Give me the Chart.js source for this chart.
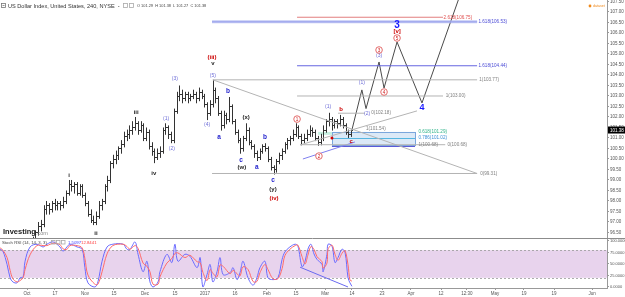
<!DOCTYPE html>
<html>
<head>
<meta charset="utf-8">
<script src="https://cdn.jsdelivr.net/npm/chart.js@4/dist/chart.umd.min.js"></script>
<style>
  body { margin: 0; background: #fff; overflow: hidden; }
  #wrap { position: relative; width: 625px; height: 297px; }
  #price { position: absolute; left: 0; top: 0; }
  #stoch { position: absolute; left: 0; top: 238px; }
</style>
</head>
<body>
<div id="wrap">
  <canvas id="price" width="625" height="238"></canvas>
  <canvas id="stoch" width="625" height="59"></canvas>
</div>
<script>
const FONT = '"Liberation Sans", Arial, sans-serif';

// x unit = trading day, 0 = Mon 3 Oct 2016
const dayMin = -9.75;
const dayMax = 209.4;
const xTickDays = [0, 10.1, 20.9, 31.4, 42.6, 53.4, 64.3, 75.1, 86.6, 97.1, 107.6, 117.3, 128.2, 138.6, 149.5, 158.8, 169, 179.4, 190.3, 204];
const xTickLabels = ["Oct", "17", "Nov", "15", "Dec", "15", "2017", "16", "Feb", "15", "Mar", "14", "23", "Apr", "12", "12:30", "May", "19", "19", "Jun"];

const priceTicks = [96.5, 97, 97.5, 98, 98.5, 99, 99.5, 100, 100.5, 101, 101.5, 102, 102.5, 103, 103.5, 104, 104.5, 105, 105.5, 106, 106.5, 107, 107.5];
const stochTicks = [0, 25, 50, 75, 100];

// daily OHLC, one entry per trading day
const barOpen = [95.6,95.8,96.0,96.2,96.5,96.8,96.9,97.6,97.8,97.6,
  97.9,97.8,97.9,97.8,98.0,98.4,98.8,98.7,98.8,98.4,
  98.7,98.3,97.9,97.4,97.1,97.0,97.3,97.8,98.0,98.7,
  99.0,99.8,100.0,100.2,100.5,100.7,101.1,101.2,101.4,101.5,
  101.7,101.4,101.6,101.0,101.3,100.6,100.4,100.1,100.3,100.4,
  101.4,101.5,101.2,100.9,102.3,103.0,103.1,102.9,103.1,102.9,
  103.0,103.1,102.9,103.2,103.0,102.6,102.2,102.6,103.3,102.9,
  102.2,101.6,102.1,101.9,102.5,101.8,101.3,100.9,100.5,101.0,
  101.4,100.8,100.6,100.3,100.1,100.4,100.6,100.5,100.0,99.6,
  99.5,99.9,100.2,100.4,100.7,100.9,101.0,101.2,101.5,101.1,
  100.9,101.0,101.2,101.4,101.3,101.0,100.8,101.0,101.4,101.8,
  101.9,101.6,101.8,101.7,101.9,101.6,101.3,101.2];
const barHigh = [95.9,96.1,96.3,96.6,97.0,97.1,97.8,98.0,97.9,98.0,
  98.1,98.0,98.0,98.2,98.5,99.0,99.0,98.9,98.9,98.8,
  98.8,98.4,98.0,97.6,97.3,97.5,98.0,98.1,98.8,99.2,
  99.9,100.2,100.4,100.6,100.9,101.3,101.4,101.6,101.8,102.0,
  101.8,101.8,101.7,101.5,101.4,100.8,100.5,100.5,100.6,101.5,
  101.7,101.6,101.3,102.4,103.2,103.5,103.3,103.2,103.2,103.1,
  103.3,103.2,103.4,103.3,103.1,102.7,102.8,103.77,103.4,103.0,
  102.3,102.3,102.2,102.95,102.6,101.9,101.4,101.0,101.1,101.7,
  101.5,100.9,100.7,100.4,100.5,100.7,100.75,100.6,100.1,99.7,
  100.0,100.3,100.5,100.8,101.0,101.1,101.4,101.7,101.6,101.2,
  101.2,101.4,101.6,101.5,101.4,101.1,101.2,101.6,101.9,102.2,
  102.0,101.9,101.9,102.1,102.0,101.7,101.4,101.4];
const barLow = [95.5,95.7,95.9,96.1,96.4,96.6,96.8,97.4,97.4,97.5,
  97.6,97.6,97.6,97.7,97.9,98.3,98.5,98.4,98.3,98.3,
  98.2,97.8,97.3,97.0,96.9,96.9,97.2,97.6,97.9,98.5,
  98.9,99.6,99.8,100.0,100.3,100.6,100.9,101.0,101.2,101.4,
  101.2,101.3,100.9,100.9,100.5,100.2,99.85,100.0,100.1,100.3,
  101.2,101.0,100.8,100.8,102.2,102.8,102.7,102.8,102.7,102.8,
  102.9,102.7,102.8,102.9,102.5,101.9,102.1,102.5,102.7,102.1,
  101.4,101.5,101.7,101.8,101.7,101.2,100.8,100.3,100.4,100.9,
  100.7,100.5,100.1,99.95,100.0,100.3,100.4,99.9,99.5,99.31,
  99.4,99.8,100.0,100.3,100.5,100.7,100.9,101.1,101.0,100.7,
  100.8,100.9,101.1,101.1,100.9,100.68,100.7,100.9,101.3,101.6,
  101.4,101.5,101.5,101.6,101.5,101.2,101.05,101.1];
const barClose = [95.8,96.0,96.2,96.5,96.8,96.9,97.6,97.8,97.6,97.9,
  97.8,97.9,97.8,98.0,98.4,98.8,98.7,98.8,98.4,98.7,
  98.3,97.9,97.4,97.1,97.0,97.3,97.8,98.0,98.7,99.0,
  99.8,100.0,100.2,100.5,100.7,101.1,101.2,101.4,101.5,101.7,
  101.4,101.6,101.0,101.3,100.6,100.4,100.1,100.3,100.4,101.4,
  101.5,101.2,100.9,102.3,103.0,103.1,102.9,103.1,102.9,103.0,
  103.1,102.9,103.2,103.0,102.6,102.2,102.6,103.3,102.9,102.2,
  101.6,102.1,101.9,102.5,101.8,101.3,100.9,100.5,101.0,101.4,
  100.8,100.6,100.3,100.1,100.4,100.6,100.5,100.0,99.6,99.5,
  99.9,100.2,100.4,100.7,100.9,101.0,101.2,101.5,101.1,100.9,
  101.0,101.2,101.4,101.3,101.0,100.8,101.0,101.4,101.8,101.9,
  101.6,101.8,101.7,101.9,101.6,101.3,101.2,101.38];

// projected wave path
const projDay = [117.3, 120.9, 122.4, 127.1, 128.9, 133.6, 142.6, 157];
const projPrice = [101.38, 103.29, 102.4, 104.62, 103.38, 105.57, 102.67, 108.05];

// drawn levels and trend lines
const segDay1 = [97.5, 66.8, 97.5, 67.1, 97.5, 112.3, 66.8, 98.6, 67.1, 98.6, 99.6];
const segPrice1 = [106.75, 106.53, 104.44, 103.77, 103.0, 102.18, 99.31, 100.68, 103.77, 100.67, 100.0];
const segDay2 = [150.2, 162.5, 162.5, 162.5, 150.2, 122, 162.5, 151, 162.5, 140.8, 118.4];
const segPrice2 = [106.75, 106.53, 104.44, 103.77, 103.0, 102.18, 99.31, 100.68, 99.31, 102.29, 100.81];
const segKind = ["red", "blueWide", "blue", "grey", "grey", "grey", "grey", "grey", "grey", "grey", "blueDiag"];

// retracement box
const boxDays = [110.1, 140.1];
const boxPrices = [101.29, 100.68];
const boxLevel = 101.02;
const greenBoxDays = [105.1, 110.1];
const greenBoxPrices = [101.29, 101.15];

const fibText = ["2.618(106.75)", "1.618(106.53)", "1.618(104.44)", "1(103.77)", "1(103.00)", "0(102.18)", "1(101.54)", "0.618(101.29)", "0.786(101.02)", "1(100.68)", "0(100.68)", "0(99.31)"];
const fibDay = [150.4, 163.0, 163.0, 163.3, 151.2, 124.3, 122.4, 141.3, 141.3, 141.3, 151.8, 163.6];
const fibPrice = [106.75, 106.53, 104.44, 103.77, 103.0, 102.18, 101.45, 101.29, 101.02, 100.68, 100.68, 99.31];
const fibKind = ["red", "blue", "blue", "grey", "grey", "grey", "grey", "green", "teal", "grey", "grey", "grey"];

// wave labels
const romanText = ["i", "ii", "iii", "iv", "v", "(x)", "(w)", "(y)"];
const romanDay = [15.2, 24.9, 39.4, 45.8, 67.1, 79.1, 77.6, 88.8];
const romanPrice = [99.24, 96.48, 102.24, 99.33, 104.57, 102.0, 99.62, 98.57];

const abcText = ["a", "b", "c", "a", "b", "c"];
const abcDay = [69.3, 72.6, 77.3, 83.0, 85.9, 88.8];
const abcPrice = [101.05, 103.24, 99.95, 99.62, 101.05, 99.0];

const minorText = ["(1)", "(2)", "(3)", "(4)", "(5)", "(1)", "(1)", "(2)", "(3)"];
const minorDay = [50.2, 52.3, 53.4, 65.0, 67.1, 108.7, 120.9, 122.8, 127.1];
const minorPrice = [101.9, 100.48, 103.81, 101.62, 103.95, 102.48, 103.62, 102.18, 104.9];

const redText = ["(iii)", "(iv)", "b", "c", "[v]"];
const redDay = [66.8, 89.2, 113.4, 117.0, 133.6];
const redPrice = [104.86, 98.14, 102.38, 100.86, 106.1];

const circleText = ["1", "2", "3", "4", "5"];
const circleDay = [97.5, 105.4, 127.1, 128.9, 133.6];
const circlePrice = [101.9, 100.14, 105.19, 103.19, 105.76];

const bigText = ["3", "4"];
const bigDay = [133.6, 142.6];
const bigPrice = [106.38, 102.43];

const redDotDay = [110.1];
const redDotPrice = [101.0];

// Stoch RSI (14, 14, 3, 3)
const stochDay = [-9.7,-8.7,-7.2,-6.1,-5.1,-3.6,-2.5,-1.4,-0.7,1.1,
  3.6,5.8,7.2,9.4,11.9,13.0,14.4,15.5,18.1,19.9,
  20.9,22.0,24.5,25.6,27.1,28.9,31.0,34.7,36.1,37.2,
  39.0,40.1,41.9,43.3,44.4,45.5,47.3,48.0,50.5,52.3,
  53.4,54.5,57.0,58.8,61.4,62.5,63.5,65.0,66.1,67.1,
  68.6,69.7,70.8,73.3,74.4,75.8,76.9,78.0,79.8,81.6,
  83.0,84.1,85.9,87.0,88.8,90.6,92.1,93.1,94.9,96.8,
  97.8,99.3,100.4,101.4,102.5,103.6,104.7,106.5,106.9,108.3,
  108.7,110.1,111.2,112.3,113.7,114.8,115.9,116.6,117.3];
const stochK = [82,78,49,20,11,9,20,22,56,87,
  93,87,93,98,87,78,87,93,87,82,
  42,9,0,11,56,87,93,93,82,82,
  98,71,33,56,11,0,11,33,71,53,
  93,56,71,67,42,64,0,27,49,11,
  33,64,27,31,42,16,31,56,20,4,
  20,42,56,20,16,20,60,76,87,93,
  89,44,56,82,93,72,60,49,33,71,
  93,89,53,64,82,76,20,9,1.5097];
const stochD = [85,80,64,36,18,11,14,20,38,70,
  90,90,90,95,92,83,82,90,90,85,
  62,26,6,6,33,72,90,93,88,82,
  90,84,52,45,33,6,6,22,52,62,
  73,74,64,69,55,53,32,14,38,30,
  22,48,45,29,36,29,24,44,38,12,
  12,31,49,38,18,18,40,68,82,90,
  91,66,50,69,88,82,66,55,41,52,
  82,91,71,58,73,79,48,15,12.8441];
const divDay = [98.6, 115.9];
const divValue = [43, 0];

const segColor = { red: "#e27d7d", blue: "#6666e0", blueWide: "#6666e0", grey: "#b4b4b4", blueDiag: "#7f7fee" };
const fibColor = { red: "#e05050", blue: "#4b4bd6", grey: "#808080", green: "#2fb38a", teal: "#3c8fd6" };

function pts(xs, ys) {
  return xs.map((x, i) => ({ x: x, y: ys[i] }));
}

function txt(ctx, s, x, y, color, font, align) {
  ctx.fillStyle = color;
  ctx.font = font;
  ctx.textAlign = align || "center";
  ctx.textBaseline = "middle";
  ctx.fillText(s, x, y);
}

//open-high-low-close bars plus the box behind them
const ohlcPlugin = {
  id: "ohlc",
  beforeDatasetsDraw(chart) {
    const { ctx, chartArea, scales: { x, y } } = chart;
    ctx.save();
    ctx.beginPath();
    ctx.rect(chartArea.left, chartArea.top, chartArea.right - chartArea.left, chartArea.bottom - chartArea.top);
    ctx.clip();

    // green strip and retracement box
    let gx1 = x.getPixelForValue(greenBoxDays[0]), gx2 = x.getPixelForValue(greenBoxDays[1]);
    let gy1 = y.getPixelForValue(greenBoxPrices[0]), gy2 = y.getPixelForValue(greenBoxPrices[1]);
    ctx.fillStyle = "rgba(160,230,205,0.6)";
    ctx.fillRect(gx1, gy1, gx2 - gx1, gy2 - gy1);
    let bx1 = x.getPixelForValue(boxDays[0]), bx2 = x.getPixelForValue(boxDays[1]);
    let by1 = y.getPixelForValue(boxPrices[0]), by2 = y.getPixelForValue(boxPrices[1]);
    ctx.fillStyle = "rgba(190,215,240,0.55)";
    ctx.fillRect(bx1, by1, bx2 - bx1, by2 - by1);
    ctx.lineWidth = 1;
    ctx.strokeStyle = "#7aa6dc";
    ctx.strokeRect(Math.round(bx1) + 0.5, Math.round(by1) + 0.5, Math.round(bx2 - bx1), Math.round(by2 - by1));
    ctx.strokeStyle = "#5a5ad8";
    ctx.beginPath();
    ctx.moveTo(bx1, Math.round(by2) + 1.5);
    ctx.lineTo(bx2, Math.round(by2) + 1.5);
    ctx.stroke();
    let ly = Math.round(y.getPixelForValue(boxLevel)) + 0.5;
    ctx.strokeStyle = "#56b6e0";
    ctx.beginPath();
    ctx.moveTo(bx1, ly);
    ctx.lineTo(bx2, ly);
    ctx.stroke();

    ctx.strokeStyle = "#333";
    ctx.lineWidth = 1;
    ctx.beginPath();
    for (let i = 0; i < barClose.length; i++) {
      let px = Math.round(x.getPixelForValue(i)) + 0.5;
      let yh = y.getPixelForValue(barHigh[i]);
      let yl = y.getPixelForValue(barLow[i]);
      let yo = Math.round(y.getPixelForValue(barOpen[i])) + 0.5;
      let yc = Math.round(y.getPixelForValue(barClose[i])) + 0.5;
      ctx.moveTo(px, yh);
      ctx.lineTo(px, yl + 1);
      ctx.moveTo(px - 1.5, yo);
      ctx.lineTo(px, yo);
      ctx.moveTo(px, yc);
      ctx.lineTo(px + 1.5, yc);
    }
    ctx.stroke();
    ctx.restore();
  },
};

// wave labels, level texts, header and watermark
const notesPlugin = {
  id: "notes",
  afterDatasetsDraw(chart) {
    const { ctx, scales: { x, y } } = chart;
    ctx.save();
    const X = (d) => x.getPixelForValue(d);
    const Y = (p) => y.getPixelForValue(p);

    fibText.forEach((s, i) => txt(ctx, s, X(fibDay[i]), Y(fibPrice[i]), fibColor[fibKind[i]], "4.6px " + FONT, "left"));
    romanText.forEach((s, i) => txt(ctx, s, X(romanDay[i]), Y(romanPrice[i]), "#1e1e1e", "bold 6px " + FONT));
    abcText.forEach((s, i) => txt(ctx, s, X(abcDay[i]), Y(abcPrice[i]), "#1d1dcc", "bold 6.5px " + FONT));
    minorText.forEach((s, i) => txt(ctx, s, X(minorDay[i]), Y(minorPrice[i]), "#6f6fd8", "5px " + FONT));
    redText.forEach((s, i) => txt(ctx, s, X(redDay[i]), Y(redPrice[i]), "#cc0000", "bold 6px " + FONT));

    circleText.forEach((s, i) => {
      let cx = X(circleDay[i]), cy = Y(circlePrice[i]);
      ctx.beginPath();
      ctx.arc(cx, cy, 3.3, 0, Math.PI * 2);
      ctx.fillStyle = "#fff";
      ctx.fill();
      ctx.strokeStyle = "#e05a5a";
      ctx.lineWidth = 0.9;
      ctx.stroke();
      txt(ctx, s, cx, cy + 0.3, "#d02020", "4.6px " + FONT);
    });
    bigText.forEach((s, i) => txt(ctx, s, X(bigDay[i]), Y(bigPrice[i]), "#1a1aff", "bold " + (i === 0 ? 10 : 9) + "px " + FONT));
    redDotDay.forEach((d, i) => {
      ctx.beginPath();
      ctx.arc(X(d), Y(redDotPrice[i]), 1.5, 0, Math.PI * 2);
      ctx.fillStyle = "#d00000";
      ctx.fill();
    });

    // last price tag on the axis
    let last = barClose[barClose.length - 1];
    let ty = Y(last);
    ctx.fillStyle = "#000";
    ctx.fillRect(608, ty - 3.5, 17, 7);
    txt(ctx, last.toFixed(2), 610, ty + 0.3, "#fff", "4.5px " + FONT, "left");

    // header
    ctx.strokeStyle = "#777";
    ctx.lineWidth = 0.8;
    ctx.strokeRect(1.5, 3.5, 4, 4);
    ctx.beginPath();
    ctx.moveTo(2.5, 5.5);
    ctx.lineTo(4.5, 5.5);
    ctx.stroke();
    txt(ctx, "US Dollar Index, United States, 240, NYSE  -", 8, 6, "#333", "5.6px " + FONT, "left");
    ctx.strokeStyle = "#aaa";
    ctx.strokeRect(123.5, 3.5, 4, 4);
    ctx.strokeRect(129.5, 3.5, 4, 4);
    txt(ctx, "O 101.29  H 101.38  L 101.27  C 101.38", 137, 6, "#444", "3.9px " + FONT, "left");
    ctx.beginPath();
    ctx.arc(590, 6, 1.4, 0, Math.PI * 2);
    ctx.fillStyle = "#f08a1c";
    ctx.fill();
    txt(ctx, "dataset", 593, 6, "#f08a1c", "3.6px " + FONT, "left");

    // watermark
    txt(ctx, "Investing", 3, 232, "#1b1b1b", "bold 7.5px " + FONT, "left");
    txt(ctx, ".com", 36, 233, "#8a8a8a", "5.5px " + FONT, "left");
    ctx.restore();
  },
};

// band, divider and panel title for the oscillator
const stochPlugin = {
  id: "stochBand",
  beforeDatasetsDraw(chart) {
    const { ctx, chartArea, scales: { y } } = chart;
    let y80 = y.getPixelForValue(80), y20 = y.getPixelForValue(20);
    ctx.save();
    ctx.fillStyle = "rgba(226,200,232,0.8)";
    ctx.fillRect(chartArea.left, y80, chartArea.right - chartArea.left, y20 - y80);
    ctx.strokeStyle = "#9a9a9a";
    ctx.lineWidth = 0.8;
    ctx.setLineDash([2, 2]);
    [y80, y20].forEach((v) => {
      ctx.beginPath();
      ctx.moveTo(chartArea.left, Math.round(v) + 0.5);
      ctx.lineTo(chartArea.right, Math.round(v) + 0.5);
      ctx.stroke();
    });
    ctx.setLineDash([]);
    ctx.strokeStyle = "#8c8c8c";
    ctx.lineWidth = 1;
    ctx.beginPath();
    ctx.moveTo(0, 0.5);
    ctx.lineTo(625, 0.5);
    ctx.stroke();
    ctx.restore();
  },
  afterDatasetsDraw(chart) {
    const { ctx } = chart;
    ctx.save();
    txt(ctx, "Stoch RSI (14, 14, 3, 3)", 2, 4.5, "#444", "4.3px " + FONT, "left");
    ctx.strokeStyle = "#aaa";
    ctx.lineWidth = 0.8;
    ctx.strokeRect(51.5, 2.5, 3.5, 3.5);
    ctx.strokeRect(56.5, 2.5, 3.5, 3.5);
    ctx.strokeRect(61.5, 2.5, 3.5, 3.5);
    txt(ctx, stochK[stochK.length - 1].toFixed(4), 68, 4.5, "#3b3bff", "4.3px " + FONT, "left");
    txt(ctx, stochD[stochD.length - 1].toFixed(4), 81, 4.5, "#ff3b3b", "4.3px " + FONT, "left");
    ctx.restore();
  },
};

const lineSets = [];
segKind.forEach((k, i) => {
  if (k === "blueWide") {
    lineSets.push({
      data: [{ x: segDay1[i], y: segPrice1[i] }, { x: segDay2[i], y: segPrice2[i] }],
      borderColor: "rgba(170,180,240,0.7)", borderWidth: 3, pointRadius: 0,
    });
  }
  lineSets.push({
    data: [{ x: segDay1[i], y: segPrice1[i] }, { x: segDay2[i], y: segPrice2[i] }],
    borderColor: segColor[k], borderWidth: 1, pointRadius: 0,
  });
});
lineSets.push({
  data: pts(projDay, projPrice),
  borderColor: "#4a4a4a", borderWidth: 1, pointRadius: 0,
});

new Chart(document.getElementById("price"), {
  type: "line",
  data: { datasets: lineSets },
  options: {
    responsive: false,
    animation: false,
    devicePixelRatio: 1,
    layout: { padding: 0 },
    plugins: { legend: { display: false }, tooltip: { enabled: false } },
    scales: {
      x: { type: "linear", min: dayMin, max: dayMax, display: false },
      y: {
        position: "right",
        min: 96.238,
        max: 107.571,
        afterBuildTicks(s) { s.ticks = priceTicks.map((v) => ({ value: v })); },
        afterFit(s) { s.width = 18; s.paddingTop = 0; s.paddingBottom = 0; },
        ticks: {
          font: { size: 4.5, family: FONT }, color: "#555", padding: 1,
          callback: (v) => v.toFixed(2),
        },
        grid: { drawOnChartArea: false, tickLength: 2, color: "#999" },
        border: { color: "#999" },
      },
    },
  },
  plugins: [ohlcPlugin, notesPlugin],
});

new Chart(document.getElementById("stoch"), {
  type: "line",
  data: {
    datasets: [
      { data: pts(stochDay, stochD), borderColor: "#ff6a6a", borderWidth: 1, pointRadius: 0, tension: 0.35 },
      { data: pts(stochDay, stochK), borderColor: "#6a6aff", borderWidth: 1, pointRadius: 0, tension: 0.35 },
      { data: pts(divDay, divValue), borderColor: "#6a6af0", borderWidth: 1, pointRadius: 0 },
    ],
  },
  options: {
    responsive: false,
    animation: false,
    devicePixelRatio: 1,
    layout: { padding: 0 },
    plugins: { legend: { display: false }, tooltip: { enabled: false } },
    scales: {
      x: {
        type: "linear", min: dayMin, max: dayMax,
        afterBuildTicks(s) { s.ticks = xTickDays.map((v) => ({ value: v })); },
        afterFit(s) { s.height = 9; s.paddingLeft = 0; s.paddingRight = 0; },
        ticks: {
          autoSkip: false, maxRotation: 0, font: { size: 4.5, family: FONT }, color: "#555", padding: 1,
          callback: (v, i) => xTickLabels[i],
        },
        grid: { drawOnChartArea: false, tickLength: 2, color: "#999" },
        border: { color: "#999" },
      },
      y: {
        position: "right",
        min: -2.2,
        max: 106.5,
        afterBuildTicks(s) { s.ticks = stochTicks.map((v) => ({ value: v })); },
        afterFit(s) { s.width = 18; s.paddingTop = 0; s.paddingBottom = 0; },
        ticks: {
          font: { size: 4, family: FONT }, color: "#555", padding: 1,
          callback: (v) => v.toFixed(4),
        },
        grid: { drawOnChartArea: false, tickLength: 2, color: "#999" },
        border: { color: "#999" },
      },
    },
  },
  plugins: [stochPlugin],
});
</script>
</body>
</html>
